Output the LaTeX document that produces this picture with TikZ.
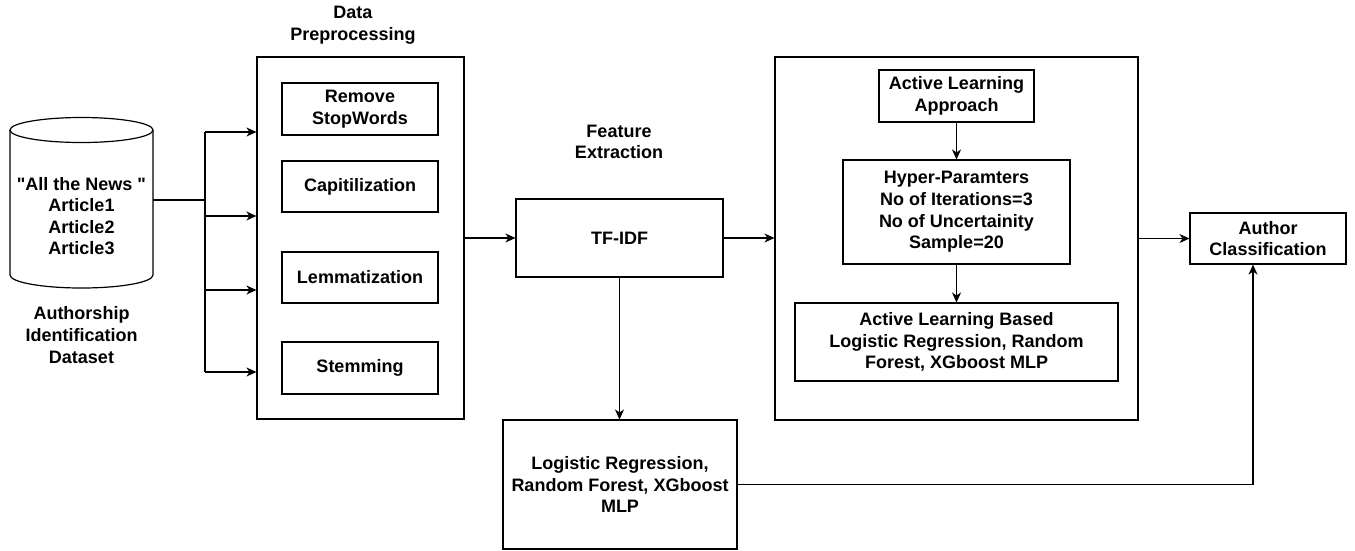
\documentclass[tikz,border=0pt]{standalone}
\usepackage{fontspec}
\setmainfont{Liberation Sans}[Ligatures=TeXOff]
\usetikzlibrary{arrows.meta,positioning,calc}
\tikzset{
  box/.style={draw=black, line width=1.1pt, fill=white, inner sep=0pt, align=center, font=\fontsize{18}{21.6}\selectfont\bfseries},
  lbl/.style={inner sep=0pt, align=center, font=\fontsize{18}{21.6}\selectfont\bfseries},
  arr/.style={line width=1.2pt, -{Stealth[length=10pt,width=9pt,inset=3pt]}},
  ln/.style={line width=1.2pt}
}
\begin{document}
\begin{tikzpicture}[x=1pt,y=-1pt]
\useasboundingbox (0,0) rectangle (1355,550);
% cylinder (dataset)
\draw[ln, fill=white] (10,130) -- (10,275) arc[start angle=180, end angle=0, x radius=71.5, y radius=13] -- (153,130);
\draw[ln, fill=white] (81.5,130) ellipse [x radius=71.5, y radius=12.5];
\node[inner sep=0pt, minimum width=143pt, minimum height=20pt] (db) at (81.5,200) {};
\node[lbl] (dbtext) at (81.5,216) {"All the News "\\Article1\\Article2\\Article3};
\node[lbl] (dblabel) at (81.5,335) {Authorship\\Identification\\Dataset};
% data preprocessing
\node[lbl] (dptitle) at (353,25) {Data\\Preprocessing};
\node[box, minimum width=207pt, minimum height=362pt] (dp) at (360.5,238) {};
\node[box, minimum width=156pt, minimum height=52pt] (rsw) at (360,109) {Remove\\StopWords};
\node[box, minimum width=156pt, minimum height=51pt] (cap) at (360,186.5) {Capitilization};
\node[box, minimum width=156pt, minimum height=51pt] (lem) at (360,277.5) {Lemmatization};
\node[box, minimum width=156pt, minimum height=52pt] (stem) at (360,368) {Stemming};
% feature extraction
\node[lbl] (fetitle) at (619,142) {Feature\\Extraction};
\node[box, minimum width=207pt, minimum height=78pt] (tfidf) at (619.5,238) {TF-IDF};
\node[box, minimum width=234pt, minimum height=129pt] (ml) at (620,484.5) {Logistic Regression,\\Random Forest, XGboost\\MLP};
% active learning
\node[box, minimum width=363pt, minimum height=363pt] (active) at (956.5,238.5) {};
\node[box, minimum width=155pt, minimum height=52pt] (ala) at (956.5,96) {Active Learning\\Approach};
\node[box, minimum width=227pt, minimum height=104pt] (hyper) at (956.5,212) {Hyper-Paramters\\No of Iterations=3\\No of Uncertainity\\Sample=20};
\node[box, minimum width=323pt, minimum height=78pt] (alb) at (956.5,342) {Active Learning Based\\Logistic Regression, Random\\Forest, XGboost MLP};
% output
\node[box, minimum width=156pt, minimum height=51pt] (author) at (1268,238.5) {Author\\Classification};
% connectors
\coordinate (bus) at (205,200);
\coordinate (b1) at (205,132);
\coordinate (b2) at (205,216);
\coordinate (b3) at (205,290);
\coordinate (b4) at (205,372);
\draw[ln] (db.east) -- (bus);
\draw[ln] (b1) -- (b4);
\draw[arr] (b1) -- (dp.west |- b1);
\draw[arr] (b2) -- (dp.west |- b2);
\draw[arr] (b3) -- (dp.west |- b3);
\draw[arr] (b4) -- (dp.west |- b4);
\draw[arr] (dp.east) -- (tfidf.west);
\draw[arr] (tfidf.east) -- (active.west |- tfidf.east);
\draw[arr] (tfidf.south) -- (tfidf.south |- ml.north);
\draw[arr] (ala.south) -- (hyper.north);
\draw[arr] (hyper.south) -- (alb.north);
\draw[arr] (active.east |- author.west) -- (author.west);
\coordinate (ac) at ([xshift=-15pt]author.south);
\draw[arr] (ml.east) -| (ac);
\end{tikzpicture}
\end{document}
